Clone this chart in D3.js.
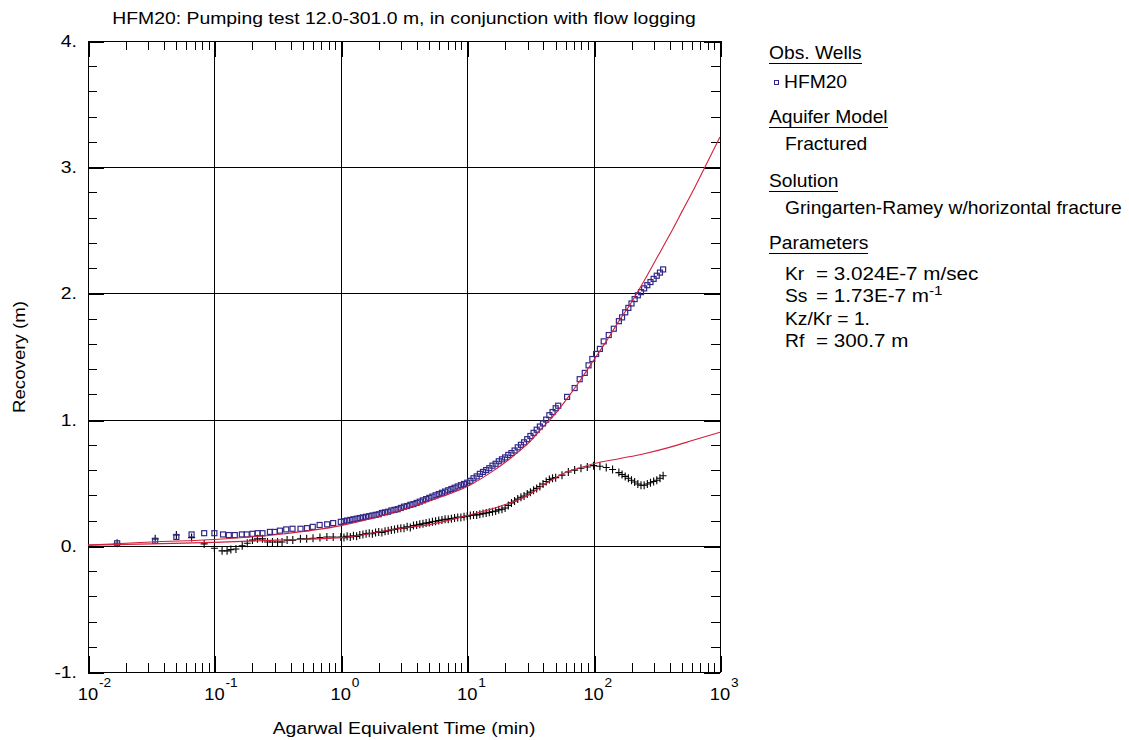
<!DOCTYPE html>
<html>
<head>
<meta charset="utf-8">
<script src="https://cdn.jsdelivr.net/npm/d3@7"></script>
<style>
  body { margin: 0; background: #fff; }
  svg { display: block; font-family: "Liberation Sans", Arial, sans-serif; }
</style>
</head>
<body>
<div id="chart"></div>
<script>
// HFM20 observation well (blue squares), [time (min), recovery (m)]
const hfm20 = [
  [0.017,0.02],[0.034,0.04],[0.050,0.07],[0.066,0.09],[0.083,0.10],[0.100,0.10],
  [0.117,0.09],[0.130,0.085],[0.145,0.085],[0.165,0.09],[0.18,0.09],[0.20,0.095],
  [0.22,0.10],[0.24,0.10],[0.275,0.11],[0.30,0.11],[0.33,0.12],[0.37,0.13],
  [0.415,0.135],[0.48,0.135],[0.54,0.14],[0.60,0.15],[0.68,0.165],[0.78,0.17],[0.87,0.18],
  [1.000,0.19],[1.059,0.195],[1.122,0.20],[1.189,0.205],[1.259,0.21],[1.334,0.215],
  [1.413,0.22],[1.496,0.225],[1.585,0.23],[1.679,0.235],[1.778,0.24],[1.884,0.245],
  [1.995,0.25],[2.113,0.26],[2.239,0.265],[2.371,0.27],[2.512,0.28],[2.661,0.285],
  [2.818,0.29],[2.985,0.30],[3.162,0.31],[3.350,0.315],[3.548,0.325],[3.758,0.33],
  [3.981,0.34],[4.217,0.35],[4.467,0.36],[4.732,0.37],[5.012,0.38],[5.309,0.39],
  [5.623,0.40],[5.957,0.41],[6.310,0.42],[6.683,0.43],[7.079,0.44],[7.499,0.45],
  [7.943,0.46],[8.414,0.47],[8.913,0.48],[9.441,0.49],[10.00,0.50],[10.59,0.515],
  [11.22,0.535],[11.89,0.55],[12.59,0.57],[13.34,0.585],[14.13,0.60],[14.96,0.615],
  [15.85,0.635],[16.79,0.65],[17.78,0.67],[18.84,0.685],[19.95,0.70],[21.13,0.72],
  [22.39,0.735],[23.71,0.755],[25.12,0.78],[26.61,0.80],[28.18,0.82],[29.85,0.845],
  [31.62,0.87],[33.50,0.895],[35.48,0.92],[37.58,0.945],[39.81,0.97],[42.17,1.00],
  [44.67,1.035],[47.32,1.06],[50.12,1.09],[52.48,1.11],
  [61.7,1.18],[70.8,1.25],[77.6,1.32],[85.1,1.37],[91.2,1.43],[97.7,1.48],
  [104.7,1.52],[112.2,1.56],[120.2,1.62],[131.8,1.67],[144.5,1.72],
  [158.5,1.78],[167.9,1.81],[177.8,1.85],[188.4,1.885],[199.5,1.92],[211.3,1.955],
  [223.9,1.985],[237.1,2.01],[251.2,2.04],[266.1,2.065],[281.8,2.09],[298.5,2.115],
  [316.2,2.14],[335.0,2.165],[354.8,2.19]
];

// second data set (black crosses)
const crossData = [
  [0.017,0.02],[0.034,0.055],[0.050,0.085],[0.066,0.065],[0.083,0.015],[0.100,-0.02],
  [0.115,-0.04],[0.126,-0.04],[0.135,-0.03],[0.148,-0.025],[0.166,0.0],[0.182,0.02],
  [0.200,0.045],[0.219,0.055],[0.240,0.055],[0.263,0.03],[0.288,0.03],[0.316,0.03],
  [0.343,0.03],[0.376,0.045],[0.417,0.045],[0.479,0.055],[0.537,0.055],[0.603,0.06],
  [0.684,0.065],[0.776,0.07],[0.871,0.07],
  [1.000,0.07],[1.059,0.065],[1.122,0.075],[1.189,0.07],[1.259,0.08],[1.334,0.075],
  [1.413,0.085],[1.496,0.09],[1.585,0.095],[1.679,0.10],[1.778,0.095],[1.884,0.105],
  [1.995,0.11],[2.113,0.105],[2.239,0.115],[2.371,0.12],[2.512,0.125],[2.661,0.13],
  [2.818,0.135],[2.985,0.14],[3.162,0.14],[3.350,0.15],[3.548,0.145],[3.758,0.16],
  [3.981,0.165],[4.217,0.17],[4.467,0.175],[4.732,0.18],[5.012,0.185],[5.309,0.19],
  [5.623,0.195],[5.957,0.20],[6.310,0.205],[6.683,0.21],[7.079,0.21],[7.499,0.215],
  [7.943,0.22],[8.414,0.225],[8.913,0.225],[9.441,0.23],[10.00,0.235],[10.59,0.24],
  [11.22,0.245],[11.89,0.245],[12.59,0.25],[13.34,0.255],[14.13,0.26],[14.96,0.265],
  [15.85,0.27],[16.79,0.275],[17.78,0.285],[18.84,0.29],[19.95,0.30],[21.13,0.32],
  [22.39,0.34],[23.71,0.355],[25.12,0.37],[26.61,0.385],[28.18,0.395],[29.85,0.41],
  [31.62,0.425],[33.50,0.44],[35.48,0.455],[37.58,0.47],[39.81,0.49],[42.17,0.51],
  [44.67,0.525],[47.32,0.535],[50.12,0.54],[56.23,0.56],[63.10,0.585],[70.79,0.60],
  [79.43,0.615],[89.13,0.625],[100.0,0.635],[112.2,0.63],[125.9,0.62],[141.3,0.605],
  [158.5,0.58],[167.9,0.565],[177.8,0.55],[188.4,0.535],[199.5,0.52],[211.3,0.505],
  [223.9,0.49],[237.1,0.48],[251.2,0.48],[266.1,0.49],[281.8,0.50],[298.5,0.51],
  [316.2,0.52],[335.0,0.535],[354.8,0.555]
];

// Gringarten-Ramey type curves (red)
const fitObs = [
  [0.01,0.005],[0.02,0.02],[0.0316,0.03],[0.1,0.05],[0.316,0.09],[1,0.16],[3.16,0.29],
  [6.31,0.39],[10,0.47],[15.85,0.59],[25.12,0.74],[31.62,0.83],[39.81,0.94],[50.12,1.05],
  [63.1,1.18],[79.43,1.32],[100,1.47],[125.9,1.62],[158.5,1.78],[199.5,1.93],[251.2,2.1],
  [316.2,2.28],[398.1,2.46],[501.2,2.65],[631,2.84],[794.3,3.04],[1000,3.24]
];
const fitCross = [
  [0.01,0.005],[0.0316,0.015],[0.1,0.027],[0.316,0.045],[1,0.065],[2.82,0.135],
  [5.13,0.17],[10,0.24],[17.78,0.31],[31.62,0.41],[39.81,0.48],[50.12,0.54],[63.1,0.59],
  [79.43,0.62],[100,0.65],[158.5,0.69],[251.2,0.73],[398.1,0.78],[631,0.84],[1000,0.90]
];

const decades = [0.01, 0.1, 1, 10, 100, 1000];
const exponents = ["-2", "-1", "0", "1", "2", "3"];
const yTicks = [-1, 0, 1, 2, 3, 4];
const yTickLabels = ["-1.", "0.", "1.", "2.", "3.", "4."];

const legendParams = [
  ["Kr", "= 3.024E-7 m/sec", ""],
  ["Ss", "= 1.73E-7 m", "-1"],
  ["Kz/Kr = 1.", "", ""],
  ["Rf", "= 300.7 m", ""]
];

const W = 1129, H = 740;
const L = 88, R = 720, T = 41, B = 672;
const SX = 1.14; // source font is a bit wide

const svg = d3.select("#chart").append("svg")
  .attr("width", W).attr("height", H);

const x = d3.scaleLog().domain([0.01, 1000]).range([L, R]);
const y = d3.scaleLinear().domain([-1, 4]).range([B, T]);

const txt = (g, px, py, s, size, anchor, sx) => g.append("text")
  .attr("transform", `translate(${px},${py}) scale(${sx || SX},1)`)
  .attr("text-anchor", anchor || "start")
  .attr("font-size", size)
  .attr("fill", "#000")
  .text(s);

// grid
const grid = svg.append("g").attr("stroke", "#000").attr("stroke-width", 1)
  .attr("shape-rendering", "crispEdges");
grid.selectAll("line.v").data(decades.slice(1, -1)).join("line")
  .attr("x1", d => Math.round(x(d)) + 0.5).attr("x2", d => Math.round(x(d)) + 0.5)
  .attr("y1", T).attr("y2", B);
grid.selectAll("line.h").data(yTicks.slice(1, -1)).join("line")
  .attr("y1", d => Math.round(y(d)) + 0.5).attr("y2", d => Math.round(y(d)) + 0.5)
  .attr("x1", L).attr("x2", R);

// minor ticks
const minorX = [];
decades.slice(0, -1).forEach(d => { for (let k = 2; k <= 9; k++) minorX.push(d * k); });
const minorY = d3.range(-1, 4.001, 0.2).filter(v => Math.abs(v - Math.round(v)) > 0.01);

const ticks = svg.append("g").attr("stroke", "#000").attr("shape-rendering", "crispEdges");
minorX.forEach(v => {
  const px = Math.round(x(v)) + 0.5;
  ticks.append("line").attr("x1", px).attr("x2", px).attr("y1", B).attr("y2", B - 9);
  ticks.append("line").attr("x1", px).attr("x2", px).attr("y1", T).attr("y2", T + 9);
});
minorY.forEach(v => {
  const py = Math.round(y(v)) + 0.5;
  ticks.append("line").attr("y1", py).attr("y2", py).attr("x1", L).attr("x2", L + 9);
  ticks.append("line").attr("y1", py).attr("y2", py).attr("x1", R).attr("x2", R - 9);
});
decades.forEach(v => {
  const px = Math.round(x(v)) + 0.5;
  ticks.append("line").attr("stroke-width", 2).attr("x1", px).attr("x2", px).attr("y1", B).attr("y2", B - 16);
  ticks.append("line").attr("stroke-width", 2).attr("x1", px).attr("x2", px).attr("y1", T).attr("y2", T + 16);
});
yTicks.forEach(v => {
  const py = Math.round(y(v)) + 0.5;
  ticks.append("line").attr("stroke-width", 2).attr("y1", py).attr("y2", py).attr("x1", L).attr("x2", L + 16);
  ticks.append("line").attr("stroke-width", 2).attr("y1", py).attr("y2", py).attr("x1", R).attr("x2", R - 16);
});

// frame
svg.append("rect").attr("x", L + 0.5).attr("y", T + 0.5)
  .attr("width", R - L).attr("height", B - T)
  .attr("fill", "none").attr("stroke", "#000").attr("shape-rendering", "crispEdges");

// clip
svg.append("clipPath").attr("id", "plot").append("rect")
  .attr("x", L).attr("y", T).attr("width", R - L + 1).attr("height", B - T);
const plot = svg.append("g").attr("clip-path", "url(#plot)");

const line = d3.line().x(d => x(d[0])).y(d => y(d[1])).curve(d3.curveMonotoneX);

// crosses
plot.append("g").attr("stroke", "#000").attr("stroke-width", 1.1)
  .selectAll("path").data(crossData).join("path")
  .attr("d", d => {
    const px = x(d[0]), py = y(d[1]);
    return `M${px - 3.5},${py}H${px + 3.5}M${px},${py - 4}V${py + 4}`;
  });

// squares
plot.append("g").attr("stroke", "#32288a").attr("stroke-width", 1.2).attr("fill", "none")
  .selectAll("rect").data(hfm20).join("rect")
  .attr("x", d => x(d[0]) - 2.5).attr("y", d => y(d[1]) - 2.5)
  .attr("width", 5).attr("height", 5);

// curves
[fitObs, fitCross].forEach(c => {
  plot.append("path").datum(c).attr("d", line)
    .attr("fill", "none").attr("stroke", "#d21f3c").attr("stroke-width", 1.1);
});

// y tick labels
yTicks.forEach((v, i) => txt(svg, 77, y(v) + 6, yTickLabels[i], 17, "end"));

// x tick labels
decades.forEach((v, i) => {
  txt(svg, x(v), 700, "10", 17, "middle", 1.08);
  txt(svg, x(v) + 11, 687, exponents[i], 12.5, "start", 1.1);
});

// titles
txt(svg, 404, 24, "HFM20: Pumping test 12.0-301.0 m, in conjunction with flow logging", 17, "middle", 1.14);
txt(svg, 404, 734, "Agarwal Equivalent Time (min)", 17, "middle", 1.14);
svg.append("text")
  .attr("transform", `translate(25,357) rotate(-90) scale(1.1,1)`)
  .attr("text-anchor", "middle").attr("font-size", 17).text("Recovery (m)");

// legend
const LS = 1.1;
const lg = svg.append("g");
const heading = (py, s) => {
  const t = txt(lg, 769, py, s, 17.5, "start", LS);
  const w = t.node().getComputedTextLength() * LS;
  lg.append("line").attr("x1", 769).attr("x2", 769 + w)
    .attr("y1", py + 4.5).attr("y2", py + 4.5)
    .attr("stroke", "#000").attr("shape-rendering", "crispEdges");
};
heading(59, "Obs. Wells");
lg.append("rect").attr("x", 774.5).attr("y", 80.5).attr("width", 4).attr("height", 4)
  .attr("fill", "none").attr("stroke", "#32288a");
txt(lg, 784, 88, "HFM20", 17.5, "start", LS);
heading(123, "Aquifer Model");
txt(lg, 785, 150, "Fractured", 17.5, "start", LS);
heading(187, "Solution");
txt(lg, 785, 214, "Gringarten-Ramey w/horizontal fracture", 17.5, "start", LS);
heading(249, "Parameters");
const paramY = [280, 302, 325, 347];
legendParams.forEach((p, i) => {
  const py = paramY[i];
  txt(lg, 785, py, p[0], 17.5, "start", LS);
  if (p[1]) {
    const t = txt(lg, 816, py, p[1], 17.5, "start", 1.18);
    if (p[2]) t.append("tspan").attr("dy", -7).attr("font-size", 13).text(p[2]);
  }
});
</script>
</body>
</html>
